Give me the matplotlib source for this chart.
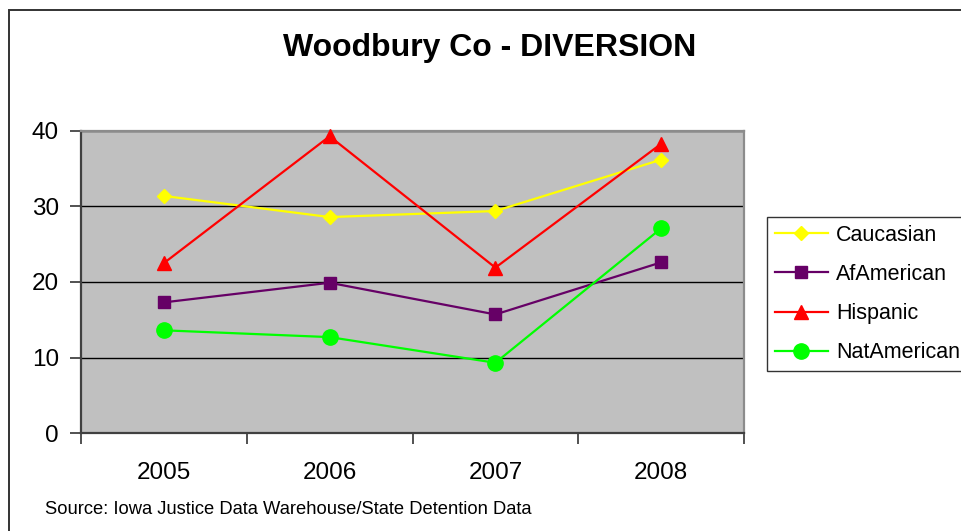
import matplotlib
matplotlib.use("Agg")
import matplotlib.pyplot as plt
from matplotlib.patches import Rectangle

plt.rcParams['font.family'] = ['Liberation Sans', 'DejaVu Sans']

years = ['2005', '2006', '2007', '2008']
caucasian = [31.4, 28.6, 29.4, 36.2]
af_american = [17.3, 19.9, 15.7, 22.6]
hispanic = [22.5, 39.3, 21.9, 38.3]
nat_american = [13.6, 12.7, 9.3, 27.1]
y_ticks = [0, 10, 20, 30, 40]

W, H = 961, 531
fig = plt.figure(figsize=(W / 100, H / 100), dpi=100)

# outer chart frame (left and top edges visible)
fig.patches.append(Rectangle((9 / W, -0.1), 1.2, 1 - 10 / H + 0.1,
                             transform=fig.transFigure, fill=False,
                             edgecolor='#333333', linewidth=1.4))

ax = fig.add_axes([81 / W, 1 - 433 / H, 663 / W, 302 / H])
ax.set_facecolor('#C0C0C0')

x = list(range(len(years)))
series = [
    ('Caucasian', caucasian, '#FFFF00', 'D', 7.6),
    ('AfAmerican', af_american, '#660066', 's', 8.8),
    ('Hispanic', hispanic, '#FF0000', '^', 10.4),
    ('NatAmerican', nat_american, '#00FF00', 'o', 11.0),
]
for name, vals, col, mk, ms in series:
    ax.plot(x, vals, color=col, linewidth=1.6, marker=mk, markersize=ms,
            markerfacecolor=col, markeredgecolor=col, label=name,
            clip_on=False, zorder=3)

ax.set_xlim(-0.5, 3.5)
ax.set_ylim(0, 40)
ax.set_yticks(y_ticks)
ax.set_yticklabels([str(v) for v in y_ticks], fontsize=17.5)
ax.yaxis.grid(True, color='black', linewidth=1.0)
ax.set_axisbelow(True)

# category labels centred, tick marks at category boundaries
ax.set_xticks(x)
ax.set_xticklabels(years, fontsize=17.5)
ax.tick_params(axis='x', which='major', length=0, pad=21)
ax.set_xticks([-0.5, 0.5, 1.5, 2.5, 3.5], minor=True)
ax.tick_params(axis='x', which='minor', length=8, width=1.2, direction='out',
               color='#333333')
ax.tick_params(axis='y', length=8, width=1.2, direction='out', pad=8,
               color='#333333')

for s in ('left', 'bottom'):
    ax.spines[s].set_color('#404040')
    ax.spines[s].set_linewidth(1.6)
for s in ('top', 'right'):
    ax.spines[s].set_color('#8C8C8C')
    ax.spines[s].set_linewidth(1.6)

fig.text(490 / W, 1 - 48 / H, 'Woodbury Co - DIVERSION', fontsize=23,
         fontweight='bold', ha='center', va='center')

fig.text(45 / W, 1 - 510 / H,
         'Source: Iowa Justice Data Warehouse/State Detention Data',
         fontsize=13.2, ha='left', va='center')

leg = fig.legend(loc='upper left', bbox_to_anchor=(767 / W, 1 - 217 / H),
                 fontsize=15.5, frameon=True, fancybox=False,
                 edgecolor='black', handlelength=2.5, handletextpad=0.35,
                 labelspacing=0.85, borderpad=0.35, borderaxespad=0)
leg.get_frame().set_linewidth(1.0)

fig.savefig('out.png', dpi=100)
